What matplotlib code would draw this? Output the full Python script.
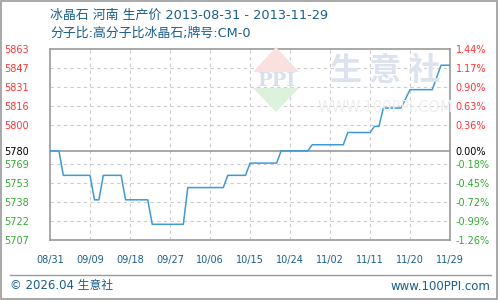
import matplotlib
matplotlib.use("Agg")
import matplotlib.pyplot as plt
from matplotlib.patches import Polygon, Rectangle
from matplotlib.lines import Line2D

plt.rcParams['font.family'] = ['DejaVu Sans', 'Noto Sans CJK SC']

# ---- data ----
base_price = 5780
days = [0, 2, 3, 9, 10, 11, 12, 16, 17, 22, 23, 30, 31, 39, 40, 44, 45, 51, 52,
        58, 59, 66, 67, 72, 73, 74, 75, 79, 81, 86, 88, 90]
prices = [5780, 5780, 5760, 5760, 5740, 5740, 5760, 5760, 5740, 5740, 5720, 5720,
          5750, 5750, 5760, 5760, 5770, 5770, 5780, 5780, 5785, 5785, 5795, 5795,
          5800, 5800, 5815, 5815, 5830, 5830, 5850, 5850]
x_tick_days = [0, 9, 18, 27, 36, 45, 54, 63, 72, 81, 90]
x_tick_labels = ['08/31', '09/09', '09/18', '09/27', '10/06', '10/15',
                 '10/24', '11/02', '11/11', '11/20', '11/29']
y_tick_pcts = [1.44, 1.17, 0.90, 0.63, 0.36, 0.0, -0.18, -0.45, -0.72, -0.99, -1.26]
y_left_labels = ['5863', '5847', '5831', '5816', '5800', '5780',
                 '5769', '5753', '5738', '5722', '5707']
y_right_labels = ['1.44%', '1.17%', '0.90%', '0.63%', '0.36%', '0.00%',
                  '-0.18%', '-0.45%', '-0.72%', '-0.99%', '-1.26%']
title1 = '冰晶石 河南 生产价 2013-08-31 - 2013-11-29'
title2 = '分子比:高分子比冰晶石;牌号:CM-0'

pcts = [(p / base_price - 1) * 100 for p in prices]

RED = '#ff3333'
GREEN = '#33aa33'
BLUE_TXT = '#1a5e8c'
LINE = '#3d9ad6'

fig = plt.figure(figsize=(5, 3), dpi=100)
W, H = 500, 300

def fx(x):
    return x / W

def fy(y):
    return 1 - y / H

# outer border
fig.add_artist(Rectangle((fx(1), fy(299)), fx(496), 298 / H, transform=fig.transFigure,
                         fill=False, edgecolor='#999999', linewidth=1.2))

# watermark
fig.add_artist(Polygon([[fx(276), fy(47)], [fx(253), fy(72)], [fx(299), fy(72)]],
                       closed=True, transform=fig.transFigure, facecolor='#fbe0e0', edgecolor='none'))
fig.add_artist(Polygon([[fx(253), fy(88)], [fx(299), fy(88)], [fx(276), fy(112)]],
                       closed=True, transform=fig.transFigure, facecolor='#dcf2dc', edgecolor='none'))
fig.text(fx(276), fy(81), 'PPI', ha='center', va='center', fontsize=14, fontweight='bold',
         color='#d8e0ec', family='DejaVu Serif')
fig.text(fx(385), fy(71), '生 意 社', ha='center', va='center', fontsize=23, fontweight='bold',
         color='#dde3ee', family=['Noto Sans CJK SC'])
fig.text(fx(385), fy(107), 'WWW.100PPI.COM', ha='center', va='center', fontsize=10.5,
         color='#eeeeee')

ax = fig.add_axes([fx(50), fy(240), 400 / W, 191 / H])
ax.patch.set_alpha(0)
ax.plot(days, pcts, color=LINE, linewidth=1.1, zorder=3)
ax.set_xlim(0, 90)
ax.set_ylim(-1.26, 1.44)

for d in x_tick_days[1:-1]:
    ax.axvline(d, color='#cccccc', linestyle=(0, (3, 3)), linewidth=0.8, zorder=1)
for p in y_tick_pcts[1:-1]:
    if p == 0.0:
        ax.axhline(p, color='#999999', linewidth=1.2, zorder=2)
    else:
        ax.axhline(p, color='#cccccc', linestyle=(0, (3, 3)), linewidth=0.8, zorder=1)

for s in ax.spines.values():
    s.set_color('#999999')
    s.set_linewidth(1.2)

ax.set_xticks(x_tick_days)
ax.set_xticklabels(x_tick_labels, fontsize=7, color=BLUE_TXT)
ax.tick_params(axis='x', length=0, pad=11)
ax.set_yticks(y_tick_pcts)
ax.set_yticklabels(y_left_labels, fontsize=7)
ax.tick_params(axis='y', length=0, pad=15)

def col(p):
    return RED if p > 0 else (GREEN if p < 0 else 'black')

for lab, p in zip(ax.get_yticklabels(), y_tick_pcts):
    lab.set_color(col(p))

ax2 = ax.twinx()
ax2.set_ylim(-1.26, 1.44)
ax2.set_yticks(y_tick_pcts)
ax2.set_yticklabels(y_right_labels, fontsize=7)
ax2.tick_params(axis='y', length=0, pad=4)
for s in ax2.spines.values():
    s.set_visible(False)
for lab, p in zip(ax2.get_yticklabels(), y_tick_pcts):
    lab.set_color(col(p))

fig.text(fx(50), fy(15), title1, ha='left', va='center', fontsize=9.3, color=BLUE_TXT)
fig.text(fx(50), fy(33), title2, ha='left', va='center', fontsize=9.3, color=BLUE_TXT)

fig.add_artist(Line2D([fx(10), fx(491)], [fy(275), fy(275)], transform=fig.transFigure,
                      color='#999999', linewidth=1.0))
fig.text(fx(10), fy(286), '© 2026.04 生意社', ha='left', va='center', fontsize=8.5, color=BLUE_TXT)
fig.text(fx(490), fy(286), 'www.100PPI.com', ha='right', va='center', fontsize=8.5, color=BLUE_TXT)

fig.savefig('out.png', dpi=100)
